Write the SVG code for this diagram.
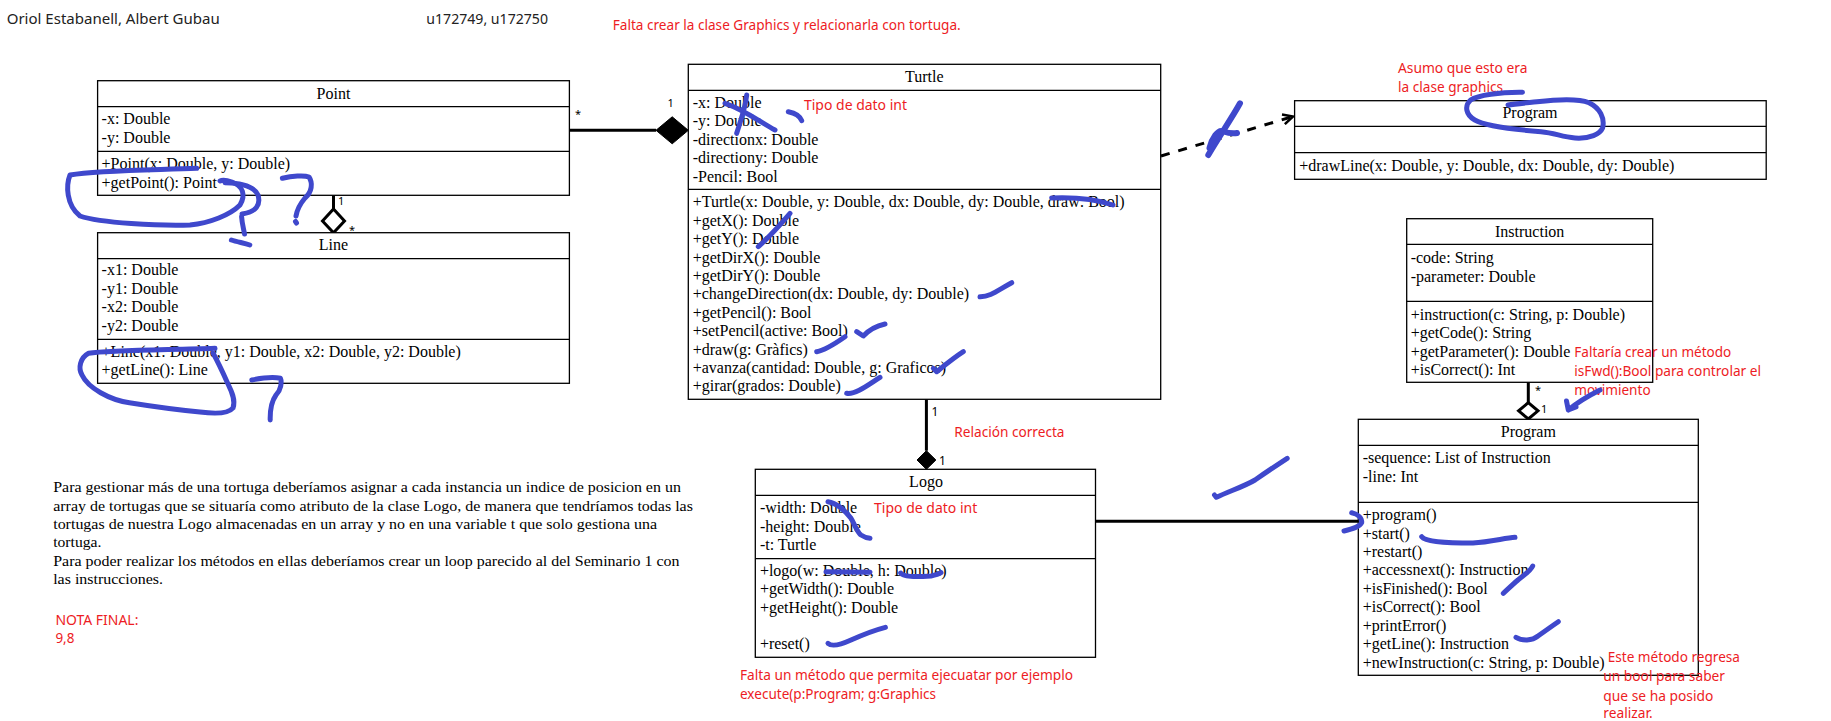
<svg xmlns="http://www.w3.org/2000/svg" width="1831" height="721" viewBox="0 0 1831 721">
<style>
.box{fill:#fff;stroke:#000;stroke-width:1.3}
.div{stroke:#000;stroke-width:1.3}
.t{font-family:"Liberation Serif",serif;font-size:16px;fill:#000}
.c{text-anchor:middle}
.p{font-family:"Liberation Serif",serif;font-size:15px;fill:#000}
.red{font-family:"Noto Sans",sans-serif;font-size:14.5px;fill:#ed1c24}
.auth{font-family:"Noto Sans",sans-serif;font-size:15px;fill:#222}
.m{font-family:"Noto Sans",sans-serif;font-size:11px;fill:#000}
.rel{stroke:#000;stroke-width:3;fill:none}
.ink{fill:none;stroke:#3f48cc;stroke-width:5;stroke-linecap:round;stroke-linejoin:round}
</style>
<defs>
<marker id="open" viewBox="0 0 12 12" refX="11" refY="6" markerWidth="12" markerHeight="12" markerUnits="userSpaceOnUse" orient="auto">
<path d="M1,1 L11,6 L1,11" fill="none" stroke="#000" stroke-width="2.5"/>
</marker>
</defs>
<rect width="1831" height="721" fill="#fff"/>

<g id="header">
<text class="auth" x="6.7" y="24" textLength="213" lengthAdjust="spacingAndGlyphs">Oriol Estabanell, Albert Gubau</text>
<text class="auth" x="426.3" y="24" textLength="121.7" lengthAdjust="spacingAndGlyphs">u172749, u172750</text>
</g>

<g id="connectors">
<line class="rel" x1="569.4" y1="130.3" x2="656" y2="130.3"/>
<polygon points="688.3,130.3 672.2,116.8 656,130.3 672.2,143.8" fill="#000" stroke="#000" stroke-width="1"/>
<text class="m" x="575" y="117.7">*</text>
<text class="m" x="667.5" y="106.7">1</text>
<line class="rel" x1="333.5" y1="195.3" x2="333.5" y2="209"/>
<polygon points="333.5,209 344.5,221 333.5,232.7 322.5,221" fill="#fff" stroke="#000" stroke-width="3"/>
<text class="m" x="338" y="205">1</text>
<text class="m" x="349" y="234">*</text>
<line x1="1161" y1="156" x2="1293" y2="116.5" stroke="#000" stroke-width="3" stroke-dasharray="9 9" marker-end="url(#open)"/>
<line class="rel" x1="926.4" y1="399.3" x2="926.4" y2="450.7"/>
<polygon points="926.4,450.7 935.9,460 926.4,469.3 917,460" fill="#000" stroke="#000" stroke-width="1"/>
<text class="m" x="931.5" y="416" style="font-size:12px">1</text>
<text class="m" x="939" y="465" style="font-size:12px">1</text>
<line class="rel" x1="1528.3" y1="382.3" x2="1528.3" y2="402.7"/>
<polygon points="1528.3,402.7 1538,410.8 1528.3,419 1518.6,410.8" fill="#fff" stroke="#000" stroke-width="3"/>
<text class="m" x="1535" y="394">*</text>
<text class="m" x="1541" y="413.3">1</text>
<line class="rel" x1="1095.5" y1="521.3" x2="1358.3" y2="521.3"/>
</g>

<g id="point">
<rect class="box" x="97.6" y="80.7" width="471.8" height="114.6"/>
<line class="div" x1="97.6" y1="106.7" x2="569.4" y2="106.7"/>
<line class="div" x1="97.6" y1="151.3" x2="569.4" y2="151.3"/>
<text class="t c" x="333.5" y="98.5">Point</text>
<text class="t" x="101.6" y="124">-x: Double</text>
<text class="t" x="101.6" y="143">-y: Double</text>
<text class="t" x="101.6" y="169">+Point(x: Double, y: Double)</text>
<text class="t" x="101.6" y="188">+getPoint(): Point</text>
</g>

<g id="line">
<rect class="box" x="97.6" y="232.7" width="471.8" height="150.6"/>
<line class="div" x1="97.6" y1="258.7" x2="569.4" y2="258.7"/>
<line class="div" x1="97.6" y1="339.3" x2="569.4" y2="339.3"/>
<text class="t c" x="333.5" y="249.5">Line</text>
<text class="t" x="101.6" y="275">-x1: Double</text>
<text class="t" x="101.6" y="293.5">-y1: Double</text>
<text class="t" x="101.6" y="312">-x2: Double</text>
<text class="t" x="101.6" y="330.5">-y2: Double</text>
<text class="t" x="101.6" y="356.5">+Line(x1: Double, y1: Double, x2: Double, y2: Double)</text>
<text class="t" x="101.6" y="375">+getLine(): Line</text>
</g>

<g id="turtle">
<rect class="box" x="688.3" y="64.3" width="472.4" height="335"/>
<line class="div" x1="688.3" y1="90.3" x2="1160.7" y2="90.3"/>
<line class="div" x1="688.3" y1="189.3" x2="1160.7" y2="189.3"/>
<text class="t c" x="924.3" y="81.7">Turtle</text>
<text class="t" x="692.7" y="107.5">-x: Double</text>
<text class="t" x="692.7" y="126">-y: Double</text>
<text class="t" x="692.7" y="144.5">-directionx: Double</text>
<text class="t" x="692.7" y="163">-directiony: Double</text>
<text class="t" x="692.7" y="181.5">-Pencil: Bool</text>
<text class="t" x="692.7" y="207.3">+Turtle(x: Double, y: Double, dx: Double, dy: Double, draw: Bool)</text>
<text class="t" x="692.7" y="225.7">+getX(): Double</text>
<text class="t" x="692.7" y="244.1">+getY(): Double</text>
<text class="t" x="692.7" y="262.5">+getDirX(): Double</text>
<text class="t" x="692.7" y="280.9">+getDirY(): Double</text>
<text class="t" x="692.7" y="299.3">+changeDirection(dx: Double, dy: Double)</text>
<text class="t" x="692.7" y="317.7">+getPencil(): Bool</text>
<text class="t" x="692.7" y="336.1">+setPencil(active: Bool)</text>
<text class="t" x="692.7" y="354.5">+draw(g: Gràfics)</text>
<text class="t" x="692.7" y="372.9">+avanza(cantidad: Double, g: Graficos)</text>
<text class="t" x="692.7" y="391.3">+girar(grados: Double)</text>
</g>

<g id="graphics-program">
<rect class="box" x="1294.6" y="100.7" width="471.6" height="78.6"/>
<line class="div" x1="1294.6" y1="126.3" x2="1766.2" y2="126.3"/>
<line class="div" x1="1294.6" y1="152.7" x2="1766.2" y2="152.7"/>
<text class="t c" x="1530" y="118.3">Program</text>
<text class="t" x="1299.2" y="170.7">+drawLine(x: Double, y: Double, dx: Double, dy: Double)</text>
</g>

<g id="instruction">
<rect class="box" x="1406.7" y="218.7" width="246" height="163.6"/>
<line class="div" x1="1406.7" y1="244.3" x2="1652.7" y2="244.3"/>
<line class="div" x1="1406.7" y1="301.3" x2="1652.7" y2="301.3"/>
<text class="t c" x="1529.7" y="236.7">Instruction</text>
<text class="t" x="1410.7" y="263.3">-code: String</text>
<text class="t" x="1410.7" y="281.7">-parameter: Double</text>
<text class="t" x="1410.7" y="319.7">+instruction(c: String, p: Double)</text>
<text class="t" x="1410.7" y="338.1">+getCode(): String</text>
<text class="t" x="1410.7" y="356.5">+getParameter(): Double</text>
<text class="t" x="1410.7" y="374.9">+isCorrect(): Int</text>
</g>

<g id="program">
<rect class="box" x="1358.3" y="419.3" width="340" height="256"/>
<line class="div" x1="1358.3" y1="445.3" x2="1698.3" y2="445.3"/>
<line class="div" x1="1358.3" y1="502.3" x2="1698.3" y2="502.3"/>
<text class="t c" x="1528.3" y="436.7">Program</text>
<text class="t" x="1362.7" y="463.3">-sequence: List of Instruction</text>
<text class="t" x="1362.7" y="481.7">-line: Int</text>
<text class="t" x="1362.7" y="520">+program()</text>
<text class="t" x="1362.7" y="538.5">+start()</text>
<text class="t" x="1362.7" y="556.9">+restart()</text>
<text class="t" x="1362.7" y="575.4">+accessnext(): Instruction</text>
<text class="t" x="1362.7" y="593.8">+isFinished(): Bool</text>
<text class="t" x="1362.7" y="612.3">+isCorrect(): Bool</text>
<text class="t" x="1362.7" y="630.7">+printError()</text>
<text class="t" x="1362.7" y="649.2">+getLine(): Instruction</text>
<text class="t" x="1362.7" y="667.6">+newInstruction(c: String, p: Double)</text>
</g>

<g id="logo">
<rect class="box" x="755.3" y="469.3" width="340.2" height="188"/>
<line class="div" x1="755.3" y1="495.3" x2="1095.5" y2="495.3"/>
<line class="div" x1="755.3" y1="558.7" x2="1095.5" y2="558.7"/>
<text class="t c" x="926" y="487.3">Logo</text>
<text class="t" x="759.9" y="513.3">-width: Double</text>
<text class="t" x="759.9" y="531.7">-height: Double</text>
<text class="t" x="759.9" y="550">-t: Turtle</text>
<text class="t" x="759.9" y="575.7">+logo(w: Double, h: Double)</text>
<text class="t" x="759.9" y="594.1">+getWidth(): Double</text>
<text class="t" x="759.9" y="612.5">+getHeight(): Double</text>
<text class="t" x="759.9" y="649.3">+reset()</text>
</g>

<g id="paragraph">
<text class="p" x="53.2" y="492.3" textLength="627.7" lengthAdjust="spacingAndGlyphs">Para gestionar más de una tortuga deberíamos asignar a cada instancia un indice de posicion en un</text>
<text class="p" x="53.2" y="510.7" textLength="639.7" lengthAdjust="spacingAndGlyphs">array de tortugas que se situaría como atributo de la clase Logo, de manera que tendríamos todas las</text>
<text class="p" x="53.2" y="529" textLength="604" lengthAdjust="spacingAndGlyphs">tortugas de nuestra Logo almacenadas en un array y no en una variable t que solo gestiona una</text>
<text class="p" x="53.2" y="547.3" textLength="48.2" lengthAdjust="spacingAndGlyphs">tortuga.</text>
<text class="p" x="53.2" y="566" textLength="626.3" lengthAdjust="spacingAndGlyphs">Para poder realizar los métodos en ellas deberíamos crear un loop parecido al del Seminario 1 con</text>
<text class="p" x="53.2" y="584.3" textLength="109.8" lengthAdjust="spacingAndGlyphs">las instrucciones.</text>
</g>

<g id="review-notes">
<text class="red" x="612.7" y="30" textLength="348" lengthAdjust="spacingAndGlyphs">Falta crear la clase Graphics y relacionarla con tortuga.</text>
<text class="red" x="804" y="110" textLength="103" lengthAdjust="spacingAndGlyphs">Tipo de dato int</text>
<text class="red" x="1398" y="73.3" textLength="129.5" lengthAdjust="spacingAndGlyphs">Asumo que esto era</text>
<text class="red" x="1398" y="92.3" textLength="105" lengthAdjust="spacingAndGlyphs">la clase graphics</text>
<text class="red" x="1574.3" y="356.7" textLength="157" lengthAdjust="spacingAndGlyphs">Faltaría crear un método</text>
<text class="red" x="1574.3" y="375.7" textLength="186.7" lengthAdjust="spacingAndGlyphs">isFwd():Bool para controlar el</text>
<text class="red" x="1574.3" y="395" textLength="76.3" lengthAdjust="spacingAndGlyphs">movimiento</text>
<text class="red" x="954.3" y="437.3" textLength="110.2" lengthAdjust="spacingAndGlyphs">Relación correcta</text>
<text class="red" x="874" y="513.3" textLength="103.3" lengthAdjust="spacingAndGlyphs">Tipo de dato int</text>
<text class="red" x="740" y="680" textLength="333" lengthAdjust="spacingAndGlyphs">Falta un método que permita ejecuatar por ejemplo</text>
<text class="red" x="740" y="699.3" textLength="196" lengthAdjust="spacingAndGlyphs">execute(p:Program; g:Graphics</text>
<text class="red" x="1607.7" y="661.7" textLength="132.3" lengthAdjust="spacingAndGlyphs">Este método regresa</text>
<text class="red" x="1603.3" y="681" textLength="121.7" lengthAdjust="spacingAndGlyphs">un bool para saber</text>
<text class="red" x="1603.3" y="700.7" textLength="110" lengthAdjust="spacingAndGlyphs">que se ha posido</text>
<text class="red" x="1603.3" y="718.3" textLength="49.3" lengthAdjust="spacingAndGlyphs">realizar.</text>
<text class="red" x="55.4" y="625" textLength="83" lengthAdjust="spacingAndGlyphs">NOTA FINAL:</text>
<text class="red" x="55.4" y="643.3" textLength="19" lengthAdjust="spacingAndGlyphs">9,8</text>
</g>

<g id="ink">
<path class="ink" d="M196.7,168.3 C160,170 100,170 70,175 C66,185 66,205 80,216 C100,223 160,226 190,225 C210,223 230,215 240,205 C246,195 243,186 232,182 C226,180 222,180 220,181"/>
<path class="ink" d="M225,182.7 C240,183 254,186 258,195 C261,205 256,212 242,214"/>
<path class="ink" d="M241.6,216.7 C242,224 244,230 244.5,234 M231.4,240 C237,242 244,243 249.8,245"/>
<path class="ink" d="M282.4,178.3 C292,176 304,175 309,177 C313,183 312,192 305,198 C300,204 297,210 296,216 M295.5,221.5 L296.5,223"/>
<path class="ink" d="M215,348.3 C170,350 110,350 88.6,353.3 C80,358 78,368 82,375 C88,388 110,400 129.4,402.7 C150,406 180,410 200,412 C215,414 228,414 233,408 C236,400 231,390 228,384 C224,375 218,362 213,353"/>
<path class="ink" d="M251.8,380 C262,378 274,377 280.4,378.3 C282,382 281,390 276,395 C271,402 270,410 270.2,420"/>
<path class="ink" d="M725,103.3 C745,110 760,122 775,130 M746.7,95 C745,110 740,122 736.7,133.3 M788.3,111.7 C795,113 800,116 801.7,120.7"/>
<path class="ink" d="M1051.7,198 C1075,197 1095,199 1113,205"/>
<path class="ink" d="M790,213.3 C780,225 768,238 758.3,246.7"/>
<path class="ink" d="M980,296.7 C990,297 998,290 1011.7,282.7"/>
<path class="ink" d="M856.7,331.7 L863.3,336 C868,331 876,326 885,324"/>
<path class="ink" d="M816.7,351.7 C826,350 836,343 845,336.7"/>
<path class="ink" d="M933.3,368.3 L936.7,371.7 C945,365 955,357 963.3,351.7"/>
<path class="ink" d="M846.7,393.3 C855,395 868,385 880,377.3"/>
<path class="ink" style="stroke-width:6" d="M1240,103.3 C1232,118 1218,138 1208.3,155 M1209.5,148 C1212,138 1218,130 1222,131 C1228,133 1233,134 1237,133"/>
<path class="ink" d="M1522.5,92.3 C1500,92 1478,95 1470.6,100 C1464,106 1466,115 1474.8,120 C1485,126 1520,130 1541,131.7 C1555,133 1562,137 1575,138 C1590,139 1600,134 1602.6,128 C1605,118 1600,108 1589,102.7 C1580,99 1560,99 1537,101.7 C1525,103 1515,104 1508,105"/>
<path class="ink" d="M1600,390 C1590,395 1578,402 1568.3,410 M1566.5,401 L1568.3,410 L1576,407"/>
<path class="ink" d="M1351.7,512.7 C1358,514 1362,518 1361.7,522.7 C1360,527 1352,529 1344,531"/>
<path class="ink" d="M1421.7,536.7 C1425,541 1440,543 1473,543 C1490,542 1505,538 1515,537.3"/>
<path class="ink" d="M1532.7,566 C1530,572 1522,576 1518,580 C1512,585 1507,590 1503.3,593.3"/>
<path class="ink" d="M1516,637.3 C1522,641 1532,641 1538,636 C1545,631 1552,626 1558.3,621.7"/>
<path class="ink" d="M828,501.7 C836,503 845,510 851,518.3 C855,525 857,532 861,535 C864,537 867,538 870,538.3"/>
<path class="ink" d="M826,571.7 L870,572.3"/>
<path class="ink" d="M900.7,573 C903,577 915,577 931,576 C936,575 939,574 941,572.7"/>
<path class="ink" d="M828,643.3 C832,647 840,645 851,640 C862,635 875,630 885.4,627.3"/>
<path class="ink" d="M1214.5,495 L1216.4,497.3 C1230,491 1245,486 1255,480 C1265,473 1277,465 1287.2,458.3"/>
</g>
</svg>
